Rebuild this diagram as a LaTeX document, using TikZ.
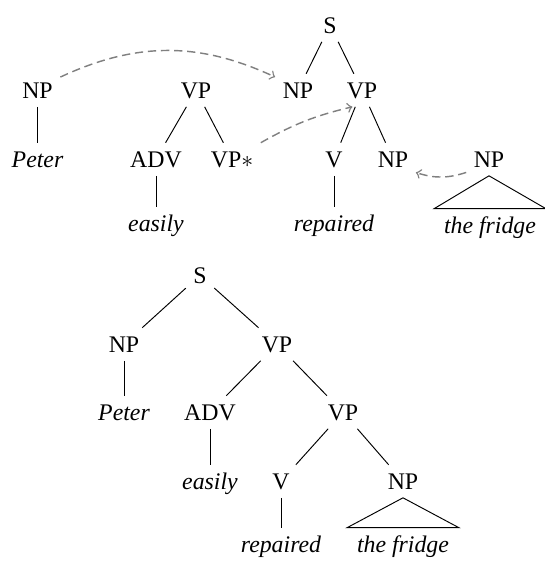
\documentclass[tikz,border=0pt]{standalone}
\usepackage{fontspec}
\setmainfont{Liberation Serif}

\begin{document}
\begin{tikzpicture}[x=0.42pt, y=-0.42pt,
	every node/.style={anchor=base, inner sep=3pt, text height=7pt, text depth=0.5pt},
	word/.style={font=\itshape, inner xsep=4pt},
	move/.style={gray, line width=0.6pt, dash pattern=on 3.5pt off 2pt, ->}]
	\useasboundingbox (0,0) rectangle (545,561);

	% elementary trees
	\node (NPl) at (37.5,98) {NP};
	\node [word] (Peter) at (37.5,167) {Peter};
	\draw (NPl) -- (Peter);

	\node (VPm) at (196,98) {VP};
	\node (ADV) at (156,167) {ADV};
	\node (VPstar) at (232,167) {VP$*$};
	\node [word] (easily) at (156,231) {easily};
	\draw (VPm) -- (ADV);
	\draw (VPm) -- (VPstar);
	\draw (ADV) -- (easily);

	\node (S) at (330,33) {S};
	\node (NPs) at (298,98) {NP};
	\node (VPs) at (362,98) {VP};
	\node (V) at (334,167) {V};
	\node (NPo) at (393,167) {NP};
	\node [word] (repaired) at (334,231) {repaired};
	\draw (S) -- (NPs);
	\draw (S) -- (VPs);
	\draw (VPs) -- (V);
	\draw (VPs) -- (NPo);
	\draw (V) -- (repaired);

	\node (NPr) at (489,167) {NP};
	\node [word] (fridge) at (490,233) {the fridge};
	\draw (NPr.south) -- (fridge.north west) -- (fridge.north east) -- cycle;

	\draw [move] (NPl.30) to [bend left=25] (NPs.150);
	\draw [move] (VPstar.north east) to [bend left=8] (VPs.-120);
	\draw [move] (NPr.210) to [bend left=18] (NPo.-30);

	% derived tree
	\node (S2) at (200,283) {S};
	\node (NP2) at (124,352) {NP};
	\node (VP2) at (277,352) {VP};
	\node [word] (Peter2) at (124,420) {Peter};
	\node (ADV2) at (210,420) {ADV};
	\node (VP3) at (343,420) {VP};
	\node [word] (easily2) at (210,489) {easily};
	\node (V2) at (281,489) {V};
	\node (NP3) at (403,489) {NP};
	\node [word] (repaired2) at (281,552) {repaired};
	\node [word] (fridge2) at (403,552) {the fridge};
	\draw (S2) -- (NP2);
	\draw (S2) -- (VP2);
	\draw (NP2) -- (Peter2);
	\draw (VP2) -- (ADV2);
	\draw (VP2) -- (VP3);
	\draw (ADV2) -- (easily2);
	\draw (VP3) -- (V2);
	\draw (VP3) -- (NP3);
	\draw (V2) -- (repaired2);
	\draw (NP3.south) -- (fridge2.north west) -- (fridge2.north east) -- cycle;
\end{tikzpicture}
\end{document}
